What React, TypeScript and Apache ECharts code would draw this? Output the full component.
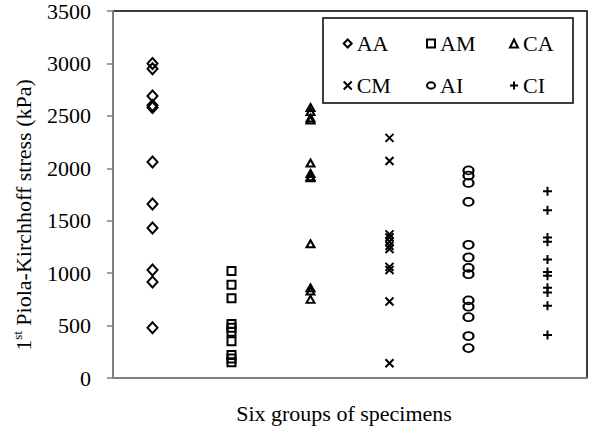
import React, { useEffect, useRef } from "react";
import * as echarts from "echarts";

const groups = ["AA", "AM", "CA", "CM", "AI", "CI"];
const AA = [3000, 2950, 2690, 2600, 2580, 2060, 1660, 1430, 1030, 915, 480];
const AM = [1020, 890, 760, 515, 480, 440, 350, 220, 185, 150];
const CA = [2580, 2540, 2480, 2460, 2050, 1950, 1920, 1910, 1280, 860, 830, 750];
const CM = [2290, 2070, 1370, 1340, 1300, 1260, 1230, 1060, 1030, 730, 140];
const AI = [1980, 1930, 1860, 1680, 1270, 1150, 1050, 990, 740, 680, 580, 400, 285];
const CI = [1780, 1600, 1340, 1300, 1130, 1010, 975, 860, 815, 690, 410];
const yTicks = [0, 500, 1000, 1500, 2000, 2500, 3000, 3500];

const values: Record<string, number[]> = { AA, AM, CA, CM, AI, CI };

const symbols: Record<string, { symbol: string; size: number | number[] }> = {
  AA: { symbol: "diamond", size: [10, 11] },
  AM: { symbol: "rect", size: 8 },
  CA: { symbol: "triangle", size: [8, 7] },
  CM: { symbol: "path://M0,0L10,10M10,0L0,10", size: 8 },
  AI: { symbol: "path://M0,4A5,4,0,1,1,10,4A5,4,0,1,1,0,4Z", size: [10, 8] },
  CI: { symbol: "path://M5,0L5,10M0,5L10,5", size: 9 },
};

const FONT = "Liberation Serif";

export default function App() {
  const ref = useRef<HTMLDivElement>(null);
  useEffect(() => {
    if (!ref.current) return;
    const chart = echarts.init(ref.current, undefined, { renderer: "svg" });
    const legendCols = [
      { data: ["AA", "CM"], left: 337.7 },
      { data: ["AM", "AI"], left: 421 },
      { data: ["CA", "CI"], left: 504 },
    ];
    chart.setOption({
      animation: false,
      backgroundColor: "#fff",
      textStyle: { fontFamily: FONT },
      grid: {
        left: 113,
        right: 13,
        top: 11,
        bottom: 58,
        show: true,
        borderColor: "#000",
        borderWidth: 1.5,
        backgroundColor: "transparent",
      },
      graphic: [
        {
          type: "rect",
          z: 1,
          shape: { x: 323, y: 18, width: 250, height: 85 },
          style: { fill: "#fff", stroke: "#000", lineWidth: 1.5 },
        },
        {
          type: "text",
          x: 23,
          y: 215,
          rotation: Math.PI / 2,
          style: {
            text: "{a|1}{sup|st}{a| Piola-Kirchhoff stress (kPa)}",
            align: "center",
            verticalAlign: "middle",
            rich: {
              a: { fontFamily: FONT, fontSize: 22, fill: "#000", lineHeight: 24 },
              sup: { fontFamily: FONT, fontSize: 13, fill: "#000", verticalAlign: "top", lineHeight: 24 },
            },
          },
        },
      ],
      legend: legendCols.map((c) => ({
        data: c.data,
        orient: "vertical",
        left: c.left,
        top: 27.5,
        itemWidth: 8,
        itemHeight: 8,
        itemGap: 20,
        z: 5,
        textStyle: {
          fontFamily: FONT,
          fontSize: 22,
          color: "#000",
          lineHeight: 22,
        },
      })),
      xAxis: {
        type: "category",
        data: groups,
        boundaryGap: true,
        name: "Six groups of specimens",
        nameLocation: "middle",
        nameGap: 24,
        nameTextStyle: {
          fontFamily: FONT,
          fontSize: 22,
          color: "#000",
          padding: [0, 12, 0, 0],
        },
        axisLine: { show: true, lineStyle: { color: "#808080", width: 2 } },
        axisTick: { show: false },
        axisLabel: { show: false },
        splitLine: { show: false },
      },
      yAxis: {
        type: "value",
        min: yTicks[0],
        max: yTicks[yTicks.length - 1],
        interval: 500,
        axisLine: { show: true, lineStyle: { color: "#808080", width: 2 } },
        axisTick: { show: true, inside: false, length: 6, lineStyle: { color: "#808080", width: 1.5 } },
        axisLabel: {
          fontFamily: FONT,
          fontSize: 22,
          color: "#000",
          margin: 22,
          formatter: (v: number) => String(v),
        },
        splitLine: { show: false },
      },
      series: groups.map((g) => ({
        name: g,
        type: "scatter",
        symbol: symbols[g].symbol,
        symbolSize: symbols[g].size,
        itemStyle: { color: "transparent", borderColor: "#000", borderWidth: 2, opacity: 1 },
        data: values[g].map((v) => [g, v]),
        z: 3,
      })),
    });
    return () => chart.dispose();
  }, []);
  return <div ref={ref} style={{ width: 600, height: 436, position: "absolute", left: 0, top: 0 }} />;
}
